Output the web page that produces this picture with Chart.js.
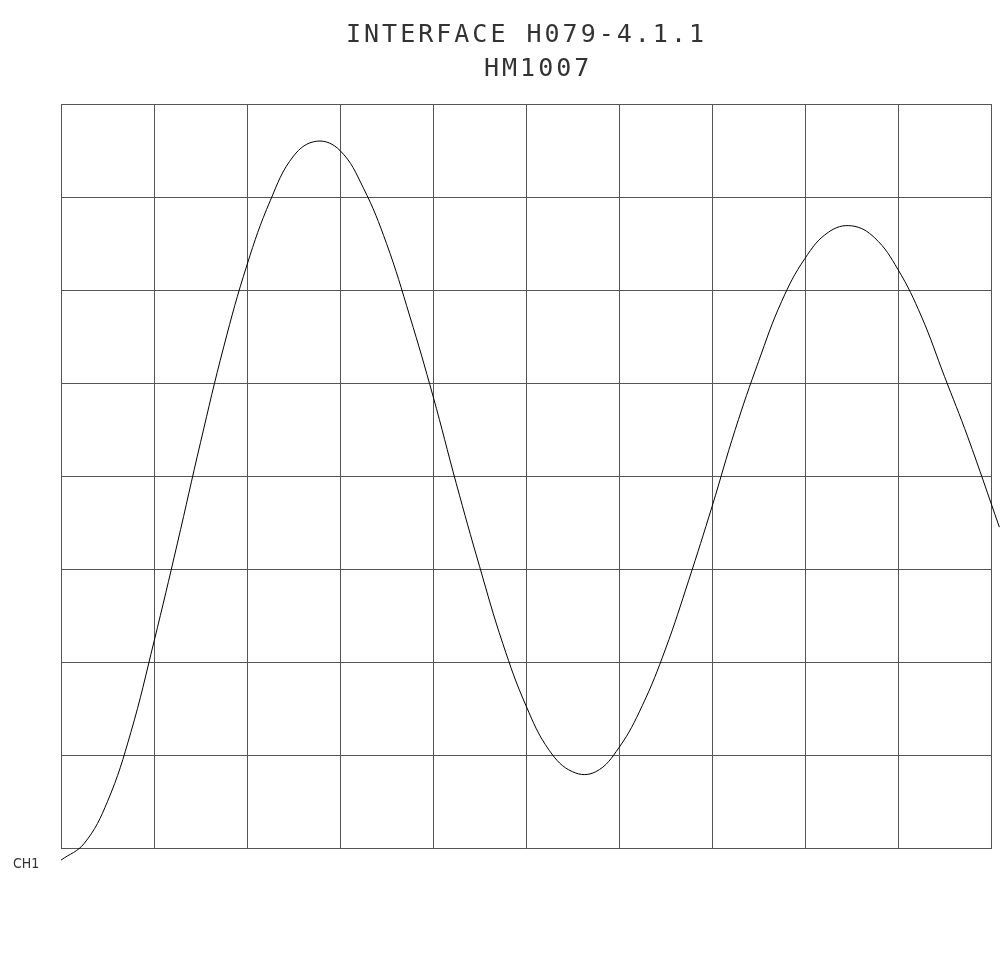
<!DOCTYPE html>
<html>
<head>
<meta charset="utf-8">
<title>INTERFACE H079-4.1.1 HM1007</title>
<script src="https://cdn.jsdelivr.net/npm/chart.js@4.4.1/dist/chart.umd.min.js"></script>
<style>
  html, body { margin: 0; padding: 0; background: #fff; }
  #wrap { width: 1000px; height: 953px; }
</style>
</head>
<body>
<div id="wrap"><canvas id="chart" width="1000" height="953"></canvas></div>
<script>
// trace CH1 (x en divisions 0..10, y en divisions 0..8)
const titleLines = ["INTERFACE H079-4.1.1", "HM1007"];
const channelLabel = "CH1";

const traceX = [0.00, 0.25, 0.50, 0.75, 1.00, 1.25, 1.50, 1.75, 2.00, 2.25, 2.50, 2.75,
    3.00, 3.25, 3.50, 3.75, 4.00, 4.25, 4.50, 4.75, 5.00, 5.25, 5.50, 5.75,
    6.00, 6.25, 6.50, 6.75, 7.00, 7.25, 7.50, 7.75, 8.00, 8.25, 8.50, 8.75,
    9.00, 9.25, 9.50, 9.75, 10.09];
const traceY = [-0.13, 0.05, 0.50, 1.24, 2.22, 3.27, 4.36, 5.39, 6.27, 6.96, 7.44, 7.60,
    7.50, 7.10, 6.50, 5.72, 4.86, 3.92, 3.03, 2.20, 1.53, 1.05, 0.82, 0.82,
    1.08, 1.53, 2.14, 2.88, 3.67, 4.50, 5.23, 5.88, 6.34, 6.62, 6.69, 6.56,
    6.22, 5.72, 5.07, 4.42, 3.45];

const gridColor = "#555";

// textes (titre + repere de voie)
const textPlugin = {
    id: "plotterText",
    afterDraw(chart) {
        const ctx = chart.ctx;
        ctx.save();
        ctx.fillStyle = "#333";
        ctx.textBaseline = "middle";
        ctx.textAlign = "left";
        ctx.font = "25px 'DejaVu Sans Mono'";
        ctx.letterSpacing = "3px";
        ctx.fillText(titleLines[0], 346, 35);
        ctx.fillText(titleLines[1], 484, 69);
        ctx.letterSpacing = "0px";
        ctx.font = "14px 'Liberation Sans Narrow', 'DejaVu Sans Condensed', sans-serif";
        ctx.fillText(channelLabel, 13, 864);
        ctx.restore();
    }
};

const ctx = document.getElementById("chart").getContext("2d");
new Chart(ctx, {
    type: "line",
    data: {
        datasets: [{
            label: channelLabel,
            data: traceX.map((x, i) => ({ x: x, y: traceY[i] })),
            borderColor: "#000",
            borderWidth: 1,
            pointRadius: 0,
            tension: 0.4,
            clip: false,
            fill: false
        }]
    },
    options: {
        responsive: false,
        animation: false,
        layout: { padding: { left: 61, right: 9, top: 104, bottom: 105 } },
        plugins: {
            legend: { display: false },
            title: { display: false },
            tooltip: { enabled: false }
        },
        scales: {
            x: {
                type: "linear", min: 0, max: 10,
                ticks: { display: false, stepSize: 1 },
                grid: { color: gridColor, lineWidth: 1, drawTicks: false },
                border: { color: gridColor, width: 1 }
            },
            y: {
                type: "linear", min: 0, max: 8,
                ticks: { display: false, stepSize: 1 },
                grid: { color: gridColor, lineWidth: 1, drawTicks: false },
                border: { color: gridColor, width: 1 }
            }
        }
    },
    plugins: [textPlugin]
});
</script>
</body>
</html>
